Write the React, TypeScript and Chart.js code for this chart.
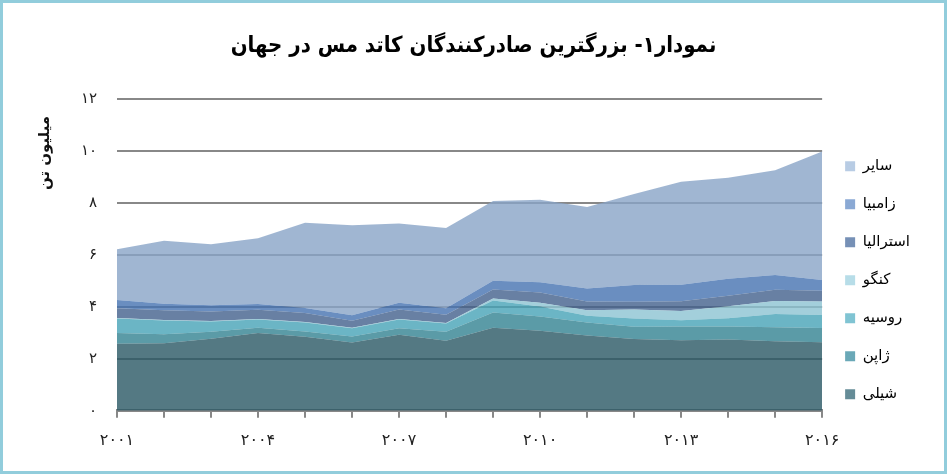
import React, { useEffect, useRef } from 'react';
import { Chart, registerables } from 'chart.js';

Chart.register(...registerables);

const years = ['2001', '2002', '2003', '2004', '2005', '2006', '2007', '2008', '2009', '2010', '2011', '2012', '2013', '2014', '2015', '2016'];
const xTickLabels = ['۲۰۰۱', '', '', '۲۰۰۴', '', '', '۲۰۰۷', '', '', '۲۰۱۰', '', '', '۲۰۱۳', '', '', '۲۰۱۶'];
const faDigits = ['۰', '۱', '۲', '۳', '۴', '۵', '۶', '۷', '۸', '۹'];

const seriesNames = ['شیلی', 'ژاپن', 'روسیه', 'کنگو', 'استرالیا', 'زامبیا', 'سایر'];

const chile = [2.58, 2.60, 2.78, 3.00, 2.85, 2.63, 2.93, 2.70, 3.20, 3.08, 2.90, 2.77, 2.72, 2.75, 2.68, 2.64];
const japan = [0.42, 0.35, 0.27, 0.20, 0.21, 0.23, 0.25, 0.35, 0.59, 0.55, 0.50, 0.47, 0.53, 0.50, 0.54, 0.55];
const russia = [0.56, 0.53, 0.39, 0.32, 0.34, 0.32, 0.34, 0.31, 0.46, 0.39, 0.26, 0.32, 0.24, 0.32, 0.51, 0.50];
const congo = [0.02, 0.02, 0.02, 0.02, 0.02, 0.02, 0.02, 0.02, 0.08, 0.14, 0.21, 0.34, 0.36, 0.46, 0.50, 0.52];
const australia = [0.37, 0.37, 0.37, 0.35, 0.35, 0.27, 0.36, 0.32, 0.34, 0.40, 0.34, 0.30, 0.37, 0.40, 0.43, 0.42];
const zambia = [0.32, 0.26, 0.24, 0.23, 0.19, 0.21, 0.26, 0.25, 0.34, 0.39, 0.50, 0.65, 0.64, 0.66, 0.57, 0.41];
const others = [1.96, 2.42, 2.35, 2.53, 3.29, 3.47, 3.06, 3.09, 3.07, 3.18, 3.14, 3.50, 3.97, 3.89, 4.04, 4.95];

const seriesValues = [chile, japan, russia, congo, australia, zambia, others];

const areaColors = [
  'rgba(41, 88, 100, 0.8)',
  'rgba(50, 130, 145, 0.8)',
  'rgba(70, 163, 182, 0.8)',
  'rgba(140, 195, 210, 0.8)',
  'rgba(66, 96, 140, 0.8)',
  'rgba(69, 114, 176, 0.8)',
  'rgba(136, 164, 199, 0.8)',
];
const legendColors = ['#658c97', '#6aa8b7', '#80c4d3', '#b7dde8', '#7690b6', '#8aa9d4', '#b8cce4'];

const yTitle = 'میلیون تن';
const chartTitle = 'نمودار۱- بزرگترین صادرکنندگان کاتد مس در جهان';

const toFa = (v: number | string) => String(v).replace(/\d/g, (d) => faDigits[Number(d)]);

const FONT = "'DejaVu Sans', sans-serif";

const yTitlePlugin = {
  id: 'yTitlePlugin',
  afterDraw(chart: any) {
    const ctx = chart.ctx;
    ctx.save();
    ctx.translate(42, 150);
    ctx.rotate(-Math.PI / 2);
    ctx.font = `bold 15px ${FONT}`;
    ctx.fillStyle = '#111';
    ctx.textAlign = 'center';
    ctx.textBaseline = 'middle';
    ctx.fillText(yTitle, 0, 0);
    ctx.restore();
  },
};

export default function App() {
  const ref = useRef<HTMLCanvasElement | null>(null);

  useEffect(() => {
    if (!ref.current) return;
    const chart = new Chart(ref.current, {
      type: 'line',
      data: {
        labels: years,
        datasets: seriesValues.map((vals, i) => ({
          label: seriesNames[i],
          data: vals,
          backgroundColor: areaColors[i],
          borderColor: areaColors[i],
          borderWidth: 0,
          pointRadius: 0,
          tension: 0,
          fill: i === 0 ? 'origin' : '-1',
        })),
      },
      options: {
        animation: false,
        responsive: false,
        maintainAspectRatio: false,
        layout: { padding: { left: 24, right: 24, top: 0, bottom: 8 } },
        plugins: {
          tooltip: { enabled: false },
          title: {
            display: true,
            text: chartTitle,
            color: '#000',
            font: { family: "'DejaVu Sans Condensed', 'DejaVu Sans', sans-serif", size: 22, weight: 'bold' },
            padding: { top: 30, bottom: 40 },
          },
          legend: {
            position: 'right',
            align: 'center',
            reverse: true,
            title: {
              display: true,
              text: ' ',
              font: { size: 12 },
              padding: { top: 80, bottom: 0 },
            },
            labels: {
              boxWidth: 10,
              boxHeight: 10,
              padding: 23,
              color: '#000',
              font: { family: FONT, size: 15 },
              generateLabels: (c: any) => {
                const items = (Chart.defaults.plugins.legend.labels as any).generateLabels(c);
                items.forEach((it: any) => {
                  it.fillStyle = legendColors[it.datasetIndex];
                  it.strokeStyle = legendColors[it.datasetIndex];
                  it.lineWidth = 0;
                });
                return items;
              },
            },
          },
        },
        scales: {
          x: {
            offset: false,
            grid: { display: true, drawOnChartArea: false, drawTicks: true, tickLength: 7, color: '#888', lineWidth: 2 },
            border: { display: true, color: '#888', width: 3 },
            ticks: {
              autoSkip: false,
              maxRotation: 0,
              padding: 13,
              color: '#222',
              font: { family: FONT, size: 16 },
              callback: (_v: any, idx: number) => xTickLabels[idx],
            },
          },
          y: {
            stacked: true,
            min: 0,
            max: 12,
            afterFit: (axis: any) => {
              axis.width = 90;
            },
            grid: { color: '#888', lineWidth: 2, drawTicks: false },
            border: { display: false },
            ticks: {
              stepSize: 2,
              padding: 20,
              color: '#222',
              font: { family: FONT, size: 15 },
              callback: (v: any) => toFa(v),
            },
          },
        },
      },
      plugins: [yTitlePlugin],
    } as any);
    return () => chart.destroy();
  }, []);

  return (
    <div
      style={{
        position: 'fixed',
        left: 0,
        top: 0,
        width: 947,
        height: 474,
        boxSizing: 'border-box',
        border: '3px solid #92CDDC',
        background: '#fff',
      }}
    >
      <canvas ref={ref} width={941} height={468} style={{ display: 'block', width: 941, height: 468 }} />
    </div>
  );
}
